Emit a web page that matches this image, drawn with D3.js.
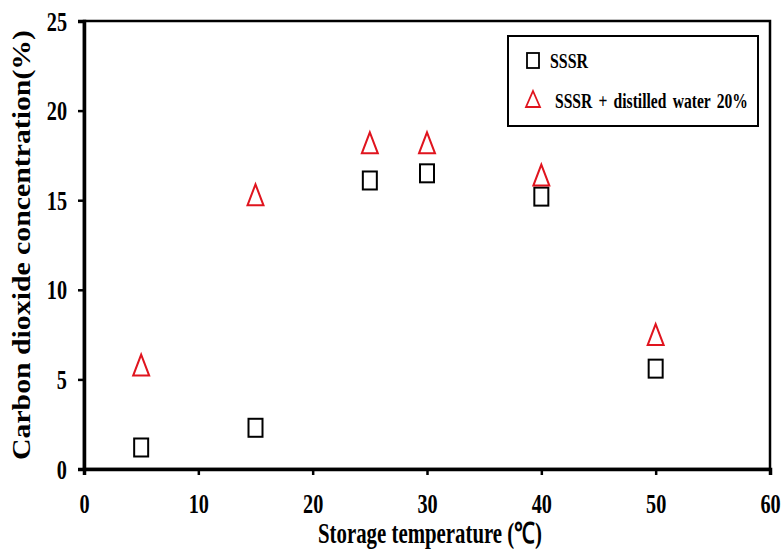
<!DOCTYPE html>
<html><head><meta charset="utf-8">
<script src="https://cdn.jsdelivr.net/npm/d3@7"></script>
<style>body{margin:0;background:#fff}svg text{font-family:"Liberation Serif","Times New Roman",serif;font-weight:bold}</style>
</head><body>
<svg id="c" width="781" height="549"></svg>
<script>
const temps = [5, 15, 25, 30, 40, 50];
const sssr = [1.2, 2.3, 16.1, 16.5, 15.2, 5.6];
const sssrWater = [5.8, 15.3, 18.2, 18.2, 16.4, 7.5];
const xTicks = [0, 10, 20, 30, 40, 50, 60];
const yTicks = [0, 5, 10, 15, 20, 25];
const seriesNames = ["SSSR", "SSSR + distilled water 20%"];

const svg = d3.select("#c");
const L = 84, R = 770, T = 21, B = 469;
const x = d3.scaleLinear().domain([0, 60]).range([L, R]);
const y = d3.scaleLinear().domain([0, 25]).range([B, T]);
const sx = 0.75;

// frame
svg.append("rect").attr("x", L).attr("y", T).attr("width", R - L).attr("height", B - T)
  .attr("fill", "none").attr("stroke", "#000").attr("stroke-width", 2.5);

const xa = svg.append("g").attr("transform", `translate(0,${B})`)
  .call(d3.axisBottom(x).tickValues(xTicks).tickSize(6));
const ya = svg.append("g").attr("transform", `translate(${L},0)`)
  .call(d3.axisLeft(y).tickValues(yTicks).tickSize(6));
[xa, ya].forEach(a => {
  a.select(".domain").attr("stroke-width", 3.5);
  a.selectAll(".tick line").attr("stroke-width", 2.5);
  a.selectAll(".tick text").attr("font-size", 27).attr("fill", "#000")
   .style("font-family", '"Liberation Serif",serif').style("font-weight", "bold")
   .attr("transform", `scale(${sx},1)`);
});
xa.selectAll(".tick text").attr("y", 44).attr("dy", 0);
ya.selectAll(".tick text").attr("x", -17 / sx).attr("dy", "0.34em");

// series
const sqW = 14, sqH = 18;
svg.append("g").selectAll("rect").data(temps).join("rect")
  .attr("x", (d) => x(d) - sqW / 2).attr("y", (d, i) => y(sssr[i]) - sqH / 2)
  .attr("width", sqW).attr("height", sqH)
  .attr("fill", "none").attr("stroke", "#000").attr("stroke-width", 2);

const triW = 16, triH = 21;
const tri = (cx, cy) => `M${cx},${cy - triH / 2}L${cx + triW / 2},${cy + triH / 2}L${cx - triW / 2},${cy + triH / 2}Z`;
svg.append("g").selectAll("path").data(temps).join("path")
  .attr("d", (d, i) => tri(x(d), y(sssrWater[i])))
  .attr("fill", "none").attr("stroke", "#e0141e").attr("stroke-width", 2);

// fit a text into a width by horizontal scaling
function fitText(sel, x0, w) {
  const n = sel.node().getComputedTextLength();
  const k = w / n;
  sel.attr("x", 0).attr("transform", `translate(${x0},0) scale(${k},1)`);
}

// legend
const lg = svg.append("g");
lg.append("rect").attr("x", 508).attr("y", 36).attr("width", 250).attr("height", 90)
  .attr("fill", "#fff").attr("stroke", "#000").attr("stroke-width", 2);
lg.append("rect").attr("x", 527).attr("y", 53).attr("width", 12).attr("height", 15)
  .attr("fill", "none").attr("stroke", "#000").attr("stroke-width", 1.8);
lg.append("path").attr("d", `M533,91L540,107L526,107Z`)
  .attr("fill", "none").attr("stroke", "#e0141e").attr("stroke-width", 1.8);
const t1 = lg.append("text").attr("y", 68).attr("font-size", 20).text(seriesNames[0]);
fitText(t1, 550, 38);
const t2 = lg.append("text").attr("y", 108).attr("font-size", 20).attr("word-spacing", 3).text(seriesNames[1]);
fitText(t2, 555, 193);

// axis titles
svg.append("text").attr("x", 430).attr("y", 543).attr("text-anchor", "middle")
  .attr("font-size", 29).attr("textLength", 224).attr("lengthAdjust", "spacingAndGlyphs")
  .text("Storage temperature (℃)");
svg.append("text").attr("transform", "translate(30,245) rotate(-90)").attr("text-anchor", "middle")
  .attr("font-size", 26).attr("textLength", 430).attr("lengthAdjust", "spacingAndGlyphs")
  .text("Carbon dioxide concentration(%)");
</script>
</body></html>
